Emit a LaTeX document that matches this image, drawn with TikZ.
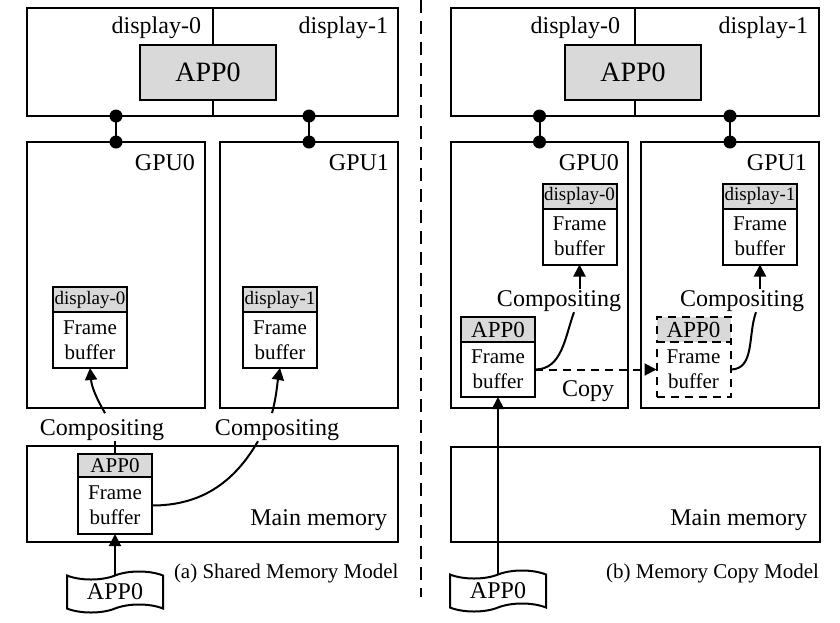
\documentclass[tikz,border=0pt]{standalone}
\usepackage{fontspec}
\setmainfont{Liberation Serif}
\usetikzlibrary{positioning,arrows.meta,shapes.symbols}

\begin{document}
\begin{tikzpicture}[x=1pt,y=-1pt,line width=2pt,
		panel/.style={draw,inner sep=0,outer sep=0},
		appbox/.style={draw,fill=gray!30,minimum width=136,minimum height=55,font=\fontsize{28}{30}\selectfont},
		lbl/.style={inner sep=1pt,outer sep=0,font=\fontsize{24}{26}\selectfont},
		capt/.style={inner sep=0,font=\fontsize{21}{23}\selectfont},
		fbhead/.style={draw,fill=gray!30,minimum width=74,minimum height=25,inner sep=0,outer sep=0,font=\fontsize{19}{21}\selectfont},
		fbbody/.style={draw,minimum width=74,minimum height=56,inner sep=0,outer sep=0,align=center,font=\fontsize{21}{25}\selectfont},
		src/.style={draw,shape=tape,tape bend height=8,minimum width=96,minimum height=41,inner sep=0,font=\fontsize{24}{26}\selectfont},
		arr/.style={-{Triangle[length=12pt,width=12pt]}},
		copyline/.style={dash pattern=on 8pt off 6pt}]
	\useasboundingbox (0,0) rectangle (840,622);

	% (a) shared memory
	\node[panel,minimum width=371,minimum height=108] (disp_a) at (212.5,62) {};
	\node[appbox] (app_a) at (208,72.5) {APP0};
	\draw (disp_a.north) -- (disp_a.north |- app_a.north) (disp_a.south) -- (disp_a.south |- app_a.south);
	\node[lbl,anchor=base east] at (202,33) {display-0};
	\node[lbl,anchor=base east] at (389,33) {display-1};

	\node[panel,minimum width=178,minimum height=266] (gpu0_a) at (116,275) {};
	\node[panel,minimum width=178,minimum height=266] (gpu1_a) at (309,275) {};
	\node[lbl,anchor=base east] at (196,170) {GPU0};
	\node[lbl,anchor=base east] at (390,170) {GPU1};
	\foreach \g in {gpu0_a,gpu1_a} {
		\draw (\g.north |- disp_a.south) -- (\g.north);
		\fill (\g.north |- disp_a.south) circle (6.5) (\g.north) circle (6.5);
	}

	\node[fbhead] (h0_a) at (90,299.5) {display-0};
	\node[fbbody] (fb0_a) [below=0pt of h0_a] {Frame\\buffer};
	\node[fbhead] (h1_a) at (280,299.5) {display-1};
	\node[fbbody] (fb1_a) [below=0pt of h1_a] {Frame\\buffer};

	\node[lbl,anchor=base] (comp0_a) at (102,435) {Compositing};
	\node[lbl,anchor=base] (comp1_a) at (277,435) {Compositing};

	\node[panel,minimum width=371,minimum height=96] (mem_a) at (212.5,494) {};
	\node[lbl,anchor=base east] at (388,525) {Main memory};
	\node[fbhead,font=\fontsize{21}{23}\selectfont,minimum height=23] (hm_a) at (115,465.5) {APP0};
	\node[fbbody,minimum height=57] (fbm_a) [below=0pt of hm_a] {Frame\\buffer};

	\node[src] (src_a) at (115,592) {APP0};
	\node[capt,anchor=base west] at (173,578) {(a) Shared Memory Model};

	\draw[arr] ([xshift=3pt,yshift=5pt]comp0_a.north) to[out=120,in=-85] (fb0_a.south);
	\draw[arr] ([xshift=-5pt,yshift=5pt]comp1_a.north) to[out=75,in=-100] (fb1_a.south);
	\draw (hm_a.north) -- (hm_a.north |- comp0_a.south);
	\draw (fbm_a.east) to[out=0,in=-120] ([xshift=-19pt]comp1_a.south);
	\draw[arr] (src_a.north) -- (fbm_a.south);

	% separator
	\draw[dash pattern=on 13pt off 8pt] (421,0) -- (421,597);

	% (b) memory copy
	\node[panel,minimum width=368,minimum height=108] (disp_b) at (635,62) {};
	\node[appbox] (app_b) at (633,72.5) {APP0};
	\draw (disp_b.north) -- (disp_b.north |- app_b.north) (disp_b.south) -- (disp_b.south |- app_b.south);
	\node[lbl,anchor=base east] at (621,33) {display-0};
	\node[lbl,anchor=base east] at (809,33) {display-1};

	\node[panel,minimum width=177,minimum height=266] (gpu0_b) at (539.5,275) {};
	\node[panel,minimum width=178,minimum height=266] (gpu1_b) at (730,275) {};
	\node[lbl,anchor=base east] at (620,170) {GPU0};
	\node[lbl,anchor=base east] at (808,170) {GPU1};
	\foreach \g in {gpu0_b,gpu1_b} {
		\draw (\g.north |- disp_b.south) -- (\g.north);
		\fill (\g.north |- disp_b.south) circle (6.5) (\g.north) circle (6.5);
	}

	\node[fbhead] (h0_b) at (579.5,196) {display-0};
	\node[fbbody] (fb0_b) [below=0pt of h0_b] {Frame\\buffer};
	\node[fbhead] (h1_b) at (760,196) {display-1};
	\node[fbbody] (fb1_b) [below=0pt of h1_b] {Frame\\buffer};

	\node[lbl,anchor=base] (comp0_b) at (559,306) {Compositing};
	\node[lbl,anchor=base] (comp1_b) at (742,306) {Compositing};

	\node[fbhead,font=\fontsize{23}{25}\selectfont] (ha_b) at (498,329.5) {APP0};
	\node[fbbody,minimum height=55] (fba_b) [below=0pt of ha_b] {Frame\\buffer};
	\node[fbhead,copyline,font=\fontsize{23}{25}\selectfont] (hc_b) at (693.5,329.5) {APP0};
	\node[fbbody,copyline,minimum height=55] (fbc_b) [below=0pt of hc_b] {Frame\\buffer};
	\node[lbl,anchor=base] at (588,396) {Copy};

	\node[panel,minimum width=369,minimum height=95] (mem_b) at (635.5,494.5) {};
	\node[lbl,anchor=base east] at (808,525) {Main memory};

	\node[src] (src_b) at (498,591) {APP0};
	\node[capt,anchor=base east] at (820,578) {(b) Memory Copy Model};

	\draw[arr] (fb0_b.south |- comp0_b.north) -- (fb0_b.south);
	\draw[arr] (fb1_b.south |- comp1_b.north) -- (fb1_b.south);
	\draw (fba_b.east) to[out=0,in=-110] ([xshift=15pt]comp0_b.south);
	\draw (fbc_b.east) to[out=0,in=-110] ([xshift=14pt]comp1_b.south);
	\draw[arr,copyline] (fba_b.east) -- (fbc_b.west);
	\draw[arr] (src_b.north) -- (fba_b.south);
\end{tikzpicture}
\end{document}
